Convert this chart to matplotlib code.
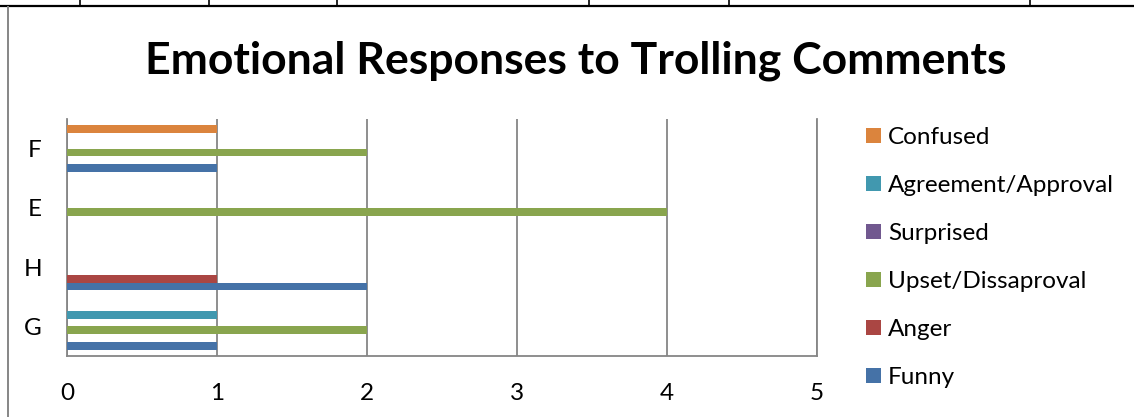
import matplotlib
matplotlib.use("Agg")
import matplotlib.pyplot as plt
from matplotlib.lines import Line2D
import numpy as np

categories = ["G", "H", "E", "F"]
series_names = ["Funny", "Anger", "Upset/Dissaproval", "Surprised", "Agreement/Approval", "Confused"]
funny = [1, 2, 0, 1]
anger = [0, 1, 0, 0]
upset = [2, 0, 4, 2]
surprised = [0, 0, 0, 0]
agreement = [1, 0, 0, 0]
confused = [0, 0, 0, 1]
series_values = [funny, anger, upset, surprised, agreement, confused]
colors = ["#4572A7", "#AA4643", "#89A54E", "#71588F", "#4198AF", "#DB843D"]
x_ticks = [0, 1, 2, 3, 4, 5]
title = "Emotional Responses to Trolling Comments"

FONT = ["Lato", "DejaVu Sans"]
plt.rcParams['font.family'] = FONT

W, H = 1134, 417
fig = plt.figure(figsize=(W / 100, H / 100), dpi=100)

ax = fig.add_axes([67 / W, 1 - 356 / H, 750 / W, 237 / H])
y = np.arange(len(categories))
bh = 0.131
handles = []
for i, (name, vals, c) in enumerate(zip(series_names, series_values, colors)):
    b = ax.barh(y + (i - 2.5) * bh, vals, height=bh, color=c, label=name, zorder=3)
    handles.append(b)

ax.set_xlim(0, 5)
ax.set_ylim(-0.5, len(categories) - 0.5)
ax.set_xticks(x_ticks)
ax.set_yticks(y)
ax.set_yticklabels(categories)
ax.tick_params(axis='both', length=0, labelsize=17.5, colors="black")
ax.tick_params(axis='x', pad=19.5)
ax.tick_params(axis='y', pad=18)
gray = "#868686"
ax.grid(axis='x', color=gray, linewidth=1.3, zorder=0)
ax.set_axisbelow(True)
for s in ["top"]:
    ax.spines[s].set_visible(False)
for s in ["left", "bottom", "right"]:
    ax.spines[s].set_color(gray)
    ax.spines[s].set_linewidth(1.3)

fig.text(576 / W, 1 - 61 / H, title, ha="center", va="center", fontsize=32, fontweight="bold")

leg = fig.legend(handles[::-1], series_names[::-1], loc="upper left",
                 bbox_to_anchor=(866 / W, 1 - 127 / H), frameon=False,
                 fontsize=17.5, handlelength=0.6, handleheight=0.6,
                 handletextpad=0.3, labelspacing=1.11, borderaxespad=0, borderpad=0)

# surrounding page/table border lines
fig.add_artist(Line2D([0, 1], [1 - 5.5 / H, 1 - 5.5 / H], color="black", linewidth=1.6))
for xp in [80, 209, 337, 589, 729, 1030]:
    fig.add_artist(Line2D([xp / W, xp / W], [1, 1 - 5.5 / H], color="black", linewidth=1.2))
fig.add_artist(Line2D([7.5 / W, 7.5 / W], [1 - 7 / H, 0], color=gray, linewidth=1.4))

fig.savefig("out.png", dpi=100)
